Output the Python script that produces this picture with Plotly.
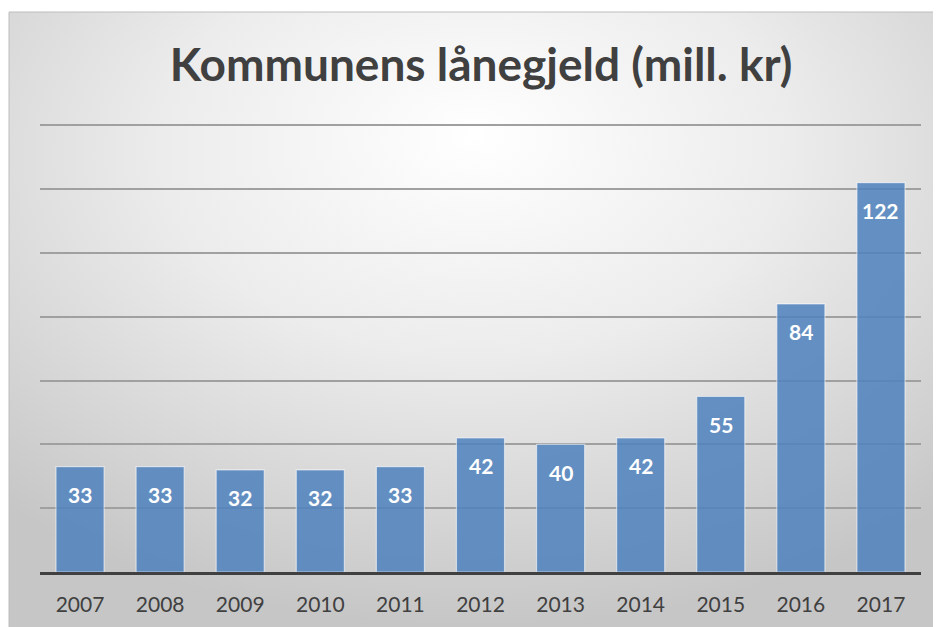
import base64
import plotly.graph_objects as go

years = ["2007", "2008", "2009", "2010", "2011", "2012", "2013", "2014", "2015", "2016", "2017"]
debt = [33, 33, 32, 32, 33, 42, 40, 42, 55, 84, 122]
title_text = "Kommunens lånegjeld (mill. kr)"

# page body has an 8px margin, so the figure is sized to fill the rest of the window
OFF = 8
W, H = 941 - OFF, 627 - OFF
ML, MR, MT, MB = 40 - OFF, 941 - 921, 124 - OFF, 627 - 572
pw, ph = W - ML - MR, H - MT - MB

def px_to_paper_x(px):
    return (px - OFF - ML) / pw

def py_to_paper_y(py):
    return (H - MB - (py - OFF)) / ph

svg = """<svg xmlns='http://www.w3.org/2000/svg' width='932' height='615' viewBox='0 0 932 615' preserveAspectRatio='none'>
<defs><radialGradient id='g' cx='50%' cy='25%' r='75%' fx='50%' fy='20%'>
<stop offset='0' stop-color='#ffffff'/><stop offset='0.45' stop-color='#ececec'/><stop offset='1' stop-color='#c6c6c6'/>
</radialGradient></defs>
<rect x='0' y='0' width='932' height='615' fill='url(#g)'/>
</svg>"""
src = "data:image/svg+xml;base64," + base64.b64encode(svg.encode()).decode()

fig = go.Figure()
fig.add_trace(go.Bar(
    x=years, y=debt, width=0.6,
    marker=dict(color="rgba(79,129,189,0.86)", line=dict(color="rgba(255,255,255,0.55)", width=1.2)),
    hoverinfo="x+y",
))

annotations = []
for i, v in enumerate(debt):
    annotations.append(dict(x=i, y=v, xref="x", yref="y", text=str(v), showarrow=False,
                            yanchor="middle", yshift=-28,
                            font=dict(family="Lato", size=21, color="white", weight="bold")))

x0 = px_to_paper_x(9)
x1 = px_to_paper_x(941)
y0 = py_to_paper_y(12)
y1 = py_to_paper_y(627)

fig.update_layout(
    width=W, height=H,
    margin=dict(l=ML, r=MR, t=MT, b=MB, autoexpand=False),
    paper_bgcolor="white",
    plot_bgcolor="rgba(0,0,0,0)",
    showlegend=False,
    title=dict(text="<b>" + title_text + "</b>", x=px_to_paper_x(481), xref="paper", xanchor="center",
               y=1 - (65 - OFF) / H, yanchor="middle",
               font=dict(family="Lato", size=46, color="#404040")),
    images=[dict(source=src, xref="paper", yref="paper", x=x0, y=y0, sizex=x1 - x0, sizey=y0 - y1,
                 xanchor="left", yanchor="top", sizing="stretch", layer="below")],
    shapes=[dict(type="rect", xref="paper", yref="paper", x0=x0, x1=x1 + 0.01, y0=y1 - 0.01, y1=y0,
                 line=dict(color="#bdbdbd", width=1), fillcolor="rgba(0,0,0,0)", layer="below")],
    annotations=annotations,
    xaxis=dict(type="category", range=[-0.5, len(years) - 0.5], automargin=False, showgrid=False,
               showline=True, linecolor="#404040", linewidth=3,
               ticks="outside", ticklen=12, tickcolor="rgba(0,0,0,0)",
               tickfont=dict(family="Lato", size=21, color="#404040"), fixedrange=True),
    yaxis=dict(range=[0, 140.4], tickvals=[20, 40, 60, 80, 100, 120, 140], showgrid=True,
               gridcolor="#a0a0a0", gridwidth=1.5,
               automargin=False, showticklabels=False, zeroline=False, showline=False, fixedrange=True),
)

fig.write_html("out.html")
